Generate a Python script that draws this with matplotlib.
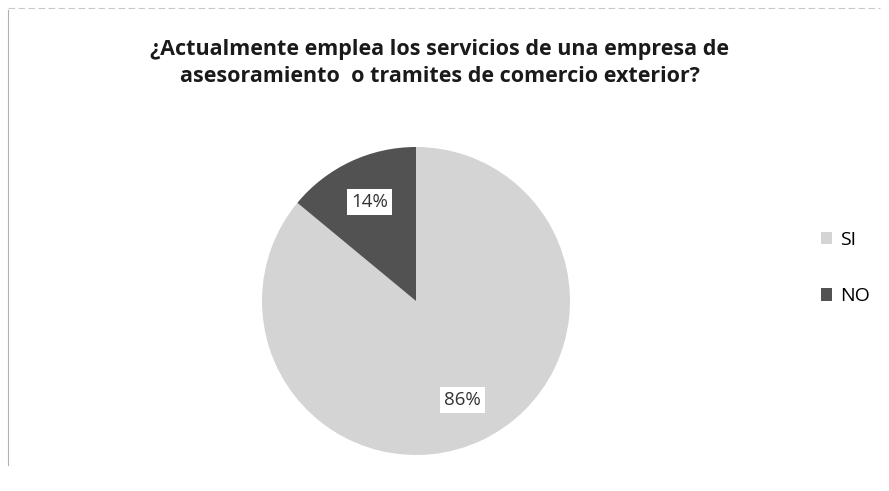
import matplotlib
matplotlib.use("Agg")
import matplotlib.pyplot as plt
from matplotlib.lines import Line2D

title = "¿Actualmente emplea los servicios de una empresa de\nasesoramiento  o tramites de comercio exterior?"
categories = ["SI", "NO"]
values = [86, 14]
colors = ["#d4d4d4", "#525252"]

W, H = 889, 491
fig = plt.figure(figsize=(W / 100, H / 100), dpi=100)
fig.patch.set_facecolor("white")

# chart frame lines
fig.add_artist(Line2D([8 / W, 8 / W], [1 - 10 / H, 1 - 465 / H], color="#b0b0b0", lw=0.8))
fig.add_artist(Line2D([8 / W, 880 / W], [1 - 8 / H, 1 - 8 / H], color="#c8c8c8", lw=0.8, ls=(0, (6, 3))))

fig.text(440 / W, 1 - 63 / H, title, ha="center", va="center", fontsize=15.5,
         fontweight="bold", family="Open Sans", linespacing=1.4, color="#1a1a1a")

cx, cy, r = 416, 301, 154
ax = fig.add_axes([(cx - r) / W, 1 - (cy + r) / H, 2 * r / W, 2 * r / H])
wedges, texts, autotexts = ax.pie(
    values, colors=colors, startangle=90, counterclock=False,
    autopct="%d%%", pctdistance=0.71,
    wedgeprops=dict(linewidth=0),
    textprops=dict(fontsize=13.5, family="Open Sans", color="#333333"),
)
for t in autotexts:
    t.set_bbox(dict(facecolor="white", edgecolor="none", pad=3))
ax.set_xlim(-1, 1)
ax.set_ylim(-1, 1)
ax.set_aspect("equal")
ax.axis("off")

handles = [plt.Rectangle((0, 0), 1, 1, facecolor=c, edgecolor="none") for c in colors]
fig.legend(handles, categories, loc="center left", bbox_to_anchor=(803 / W, 1 - 268 / H),
           frameon=False, handlelength=0.6, handleheight=0.6, handletextpad=0.4,
           labelspacing=2.0, prop=dict(family="Open Sans", size=14))

fig.savefig("out.png", dpi=100)
